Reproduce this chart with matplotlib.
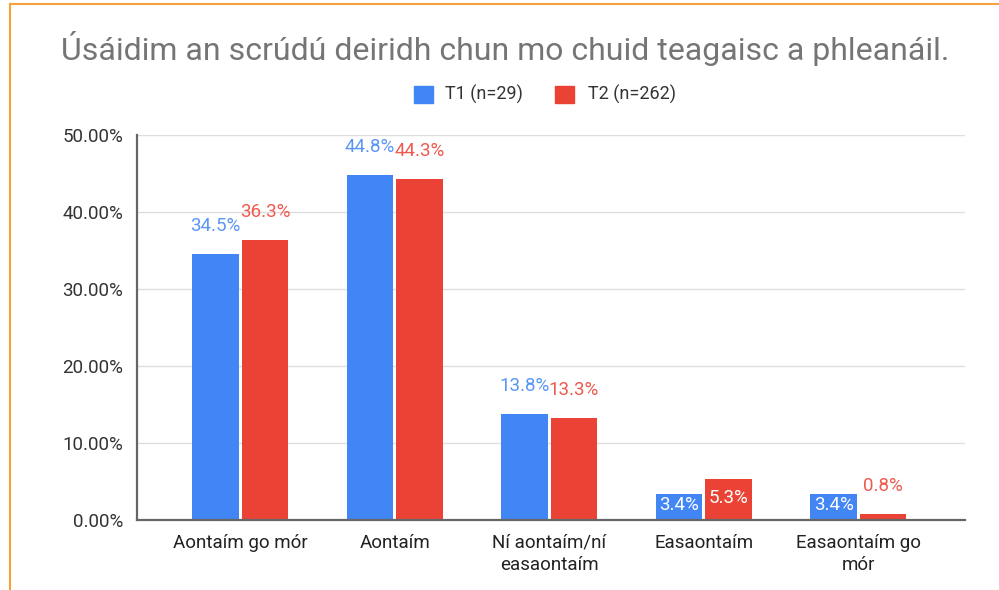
import matplotlib
matplotlib.use("Agg")
import matplotlib.pyplot as plt
from matplotlib.lines import Line2D
from matplotlib.patches import Rectangle
import numpy as np

categories = ["Aontaím go mór", "Aontaím", "Ní aontaím/ní\neasaontaím", "Easaontaím", "Easaontaím go\nmór"]
t1 = [34.5, 44.8, 13.8, 3.4, 3.4]
t2 = [36.3, 44.3, 13.3, 5.3, 0.8]
series_names = ["T1 (n=29)", "T2 (n=262)"]
yticks = [0, 10, 20, 30, 40, 50]
title = "Úsáidim an scrúdú deiridh chun mo chuid teagaisc a phleanáil."

blue = "#4285F4"
red = "#EA4335"
blue_lbl = "#5B95F5"
red_lbl = "#EE5A4E"

plt.rcParams['font.family'] = ['Roboto', 'DejaVu Sans']

fig = plt.figure(figsize=(9.99, 5.9), dpi=100)
ax = fig.add_axes([137/999, 70/590, (965-137)/999, (520-135)/590])

x = np.arange(len(categories))
w = 0.30
gap = 0.01
b1 = ax.bar(x - w/2 - gap, t1, w, color=blue, zorder=3)
b2 = ax.bar(x + w/2 + gap, t2, w, color=red, zorder=3)

ax.set_ylim(0, 50)
ax.set_xlim(-0.668, 4.69)
ax.set_yticks(yticks)
ax.set_yticklabels([f"{v:.2f}%" for v in yticks], fontsize=13.5, color="#333333")
ax.set_xticks(x)
ax.set_xticklabels(categories, fontsize=13.5, color="#222222", linespacing=1.3)
ax.tick_params(axis='both', length=0)
ax.tick_params(axis='x', pad=10)
ax.tick_params(axis='y', pad=10)
ax.grid(axis='y', color="#DDDDDD", linewidth=1, zorder=0)
for s in ["top", "right"]:
    ax.spines[s].set_visible(False)
for s in ["left", "bottom"]:
    ax.spines[s].set_color("#666666")
    ax.spines[s].set_linewidth(1.6)
    ax.spines[s].set_zorder(4)

def label(bars, vals, col):
    for b, v in zip(bars, vals):
        cx = b.get_x() + b.get_width()/2
        txt = f"{v:.1f}%"
        if v < 6 and v > 2:
            ax.text(cx, v/2 + 0.2, txt, ha='center', va='center', fontsize=13.5, color="white", zorder=5)
        else:
            ax.annotate(txt, (cx, v), xytext=(0, 28*0.72), textcoords='offset points',
                        ha='center', va='center', fontsize=13.5, color=col, zorder=5)

label(b1, t1, blue_lbl)
label(b2, t2, red_lbl)

fig.text(505/999, 1 - 48/590, title, ha='center', va='center', fontsize=23, color="#757575")

# legend
lx = [414, 555]
tx = [445, 588]
for px, tpx, name, col in zip(lx, tx, series_names, [blue, red]):
    fig.patches.append(Rectangle((px/999, 1 - 103/590), 19/999, 17/590,
                                 transform=fig.transFigure, color=col))
    fig.text(tpx/999, 1 - 94/590, name, ha='left', va='center', fontsize=13, color="#333333")

# orange frame
orange = "#F6A23C"
fig.add_artist(Line2D([10/999, 1], [1 - 3.5/590, 1 - 3.5/590], transform=fig.transFigure, color=orange, linewidth=1.5))
fig.add_artist(Line2D([10/999, 10/999], [0, 1 - 3.5/590], transform=fig.transFigure, color=orange, linewidth=1.5))

fig.savefig("out.png", dpi=100)
